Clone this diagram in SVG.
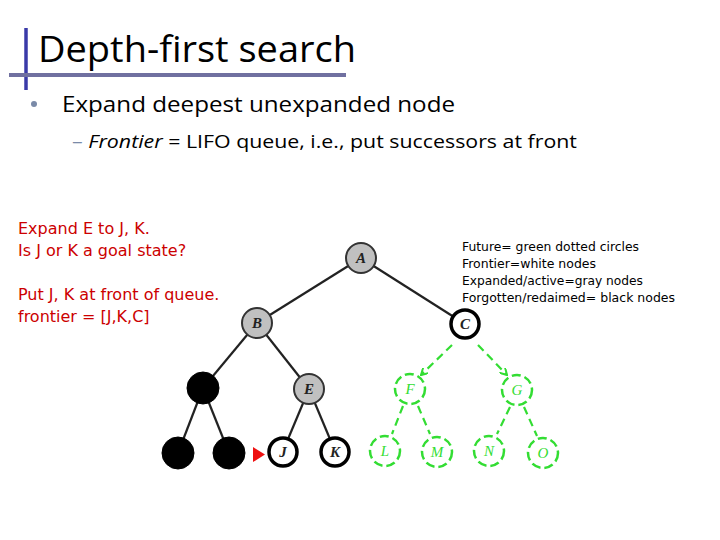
<svg xmlns="http://www.w3.org/2000/svg" width="720" height="540" viewBox="0 0 720 540">
<style>
.title{font-family:"Open Sans","Liberation Sans",sans-serif;font-size:36px;fill:#000}
.b1{font-family:"Open Sans","Liberation Sans",sans-serif;font-size:22px;fill:#000}
.b2{font-family:"Open Sans","Liberation Sans",sans-serif;font-size:19px;fill:#000}
.red{font-family:"DejaVu Sans","Liberation Sans",sans-serif;font-size:16px;fill:#cc0000}
.leg{font-family:"DejaVu Sans","Liberation Sans",sans-serif;font-size:12.5px;fill:#000}
.e{stroke:#222;stroke-width:2.2;fill:none}
.g{stroke:#33dd33;stroke-width:2.2;fill:none;stroke-dasharray:8 5}
.gray{fill:#c0c0c0;stroke:#333;stroke-width:2}
.white{fill:#fff;stroke:#000;stroke-width:3.5}
.black{fill:#000;stroke:#000;stroke-width:1}
.green{fill:#fff;stroke:#33dd33;stroke-width:2.5;stroke-dasharray:9 4}
.lbl{font-family:"Liberation Serif",serif;font-style:italic;font-weight:bold;font-size:15px;text-anchor:middle;fill:#222}
.glbl{font-family:"Liberation Serif",serif;font-style:italic;font-size:15px;text-anchor:middle;fill:#33dd33}
</style>
<defs>
<marker id="ga" markerWidth="8" markerHeight="8" refX="7" refY="4" orient="auto" markerUnits="userSpaceOnUse">
<path d="M0,0 L7,4 L0,8" fill="none" stroke="#33dd33" stroke-width="2"/>
</marker>
</defs>
<g id="header">
<line x1="26" y1="28" x2="26" y2="90" stroke="#3a3aa8" stroke-width="3.5"/>
<line x1="9" y1="75" x2="346" y2="75" stroke="#7070a0" stroke-width="4"/>
<text class="title" x="38" y="62" textLength="318" lengthAdjust="spacingAndGlyphs">Depth-first search</text>
<circle cx="34" cy="104" r="3" fill="#7a8aa8"/>
<text class="b1" x="62" y="112" textLength="393" lengthAdjust="spacingAndGlyphs">Expand deepest unexpanded node</text>
<text class="b2" x="72" y="148" textLength="505" lengthAdjust="spacingAndGlyphs"><tspan fill="#7a8aa8">–</tspan> <tspan font-style="italic">Frontier</tspan> = LIFO queue, i.e., put successors at front</text>
</g>
<g id="notes">
<text class="red" x="18" y="234">Expand E to J, K.</text>
<text class="red" x="18" y="256">Is J or K a goal state?</text>
<text class="red" x="18" y="300">Put J, K at front of queue.</text>
<text class="red" x="18" y="322">frontier = [J,K,C]</text>
</g>
<g id="legend">
<text class="leg" x="462" y="251" textLength="177" lengthAdjust="spacingAndGlyphs">Future= green dotted circles</text>
<text class="leg" x="462" y="268" textLength="134" lengthAdjust="spacingAndGlyphs">Frontier=white nodes</text>
<text class="leg" x="462" y="285" textLength="181" lengthAdjust="spacingAndGlyphs">Expanded/active=gray nodes</text>
<text class="leg" x="462" y="302" textLength="213" lengthAdjust="spacingAndGlyphs">Forgotten/redaimed= black nodes</text>
</g>
<g id="connectors">
<line class="e" x1="361" y1="258" x2="257" y2="323"/>
<line class="e" x1="361" y1="258" x2="465" y2="324"/>
<line class="e" x1="257" y1="323" x2="203" y2="388"/>
<line class="e" x1="257" y1="323" x2="309" y2="389"/>
<line class="e" x1="203" y1="388" x2="178" y2="453"/>
<line class="e" x1="203" y1="388" x2="229" y2="453"/>
<line class="e" x1="309" y1="389" x2="283" y2="451"/>
<line class="e" x1="309" y1="389" x2="335" y2="451"/>
<line class="g" x1="452" y1="345" x2="421" y2="375" marker-end="url(#ga)"/>
<line class="g" x1="478" y1="345" x2="507" y2="375" marker-end="url(#ga)"/>
<line class="g" x1="403" y1="406" x2="392" y2="434"/>
<line class="g" x1="418" y1="406" x2="430" y2="434"/>
<line class="g" x1="510" y1="407" x2="497" y2="434"/>
<line class="g" x1="524" y1="407" x2="537" y2="436"/>
<path d="M253,447 L265,454.5 L253,462 Z" fill="#ee1111"/>
</g>
<g id="node-A"><circle class="gray" cx="361" cy="258" r="15"/><text class="lbl" x="361" y="263">A</text></g>
<g id="node-B"><circle class="gray" cx="257" cy="323" r="15"/><text class="lbl" x="257" y="328">B</text></g>
<g id="node-C"><circle class="white" cx="465" cy="324" r="14"/><text class="lbl" x="465" y="329">C</text></g>
<g id="node-D"><circle class="black" cx="203" cy="388" r="16"/></g>
<g id="node-E"><circle class="gray" cx="309" cy="389" r="15"/><text class="lbl" x="309" y="394">E</text></g>
<g id="node-H"><circle class="black" cx="178" cy="453" r="16"/></g>
<g id="node-I"><circle class="black" cx="229" cy="453" r="16"/></g>
<g id="node-J"><circle class="white" cx="283" cy="452" r="14"/><text class="lbl" x="283" y="457">J</text></g>
<g id="node-K"><circle class="white" cx="335" cy="452" r="14"/><text class="lbl" x="335" y="457">K</text></g>
<g id="node-F"><circle class="green" cx="410" cy="389" r="15"/><text class="glbl" x="410" y="394">F</text></g>
<g id="node-G"><circle class="green" cx="517" cy="390" r="15"/><text class="glbl" x="517" y="395">G</text></g>
<g id="node-L"><circle class="green" cx="385" cy="451" r="15"/><text class="glbl" x="385" y="456">L</text></g>
<g id="node-M"><circle class="green" cx="437" cy="452" r="15"/><text class="glbl" x="437" y="457">M</text></g>
<g id="node-N"><circle class="green" cx="489" cy="451" r="15"/><text class="glbl" x="489" y="456">N</text></g>
<g id="node-O"><circle class="green" cx="543" cy="453" r="15"/><text class="glbl" x="543" y="458">O</text></g>
</svg>
